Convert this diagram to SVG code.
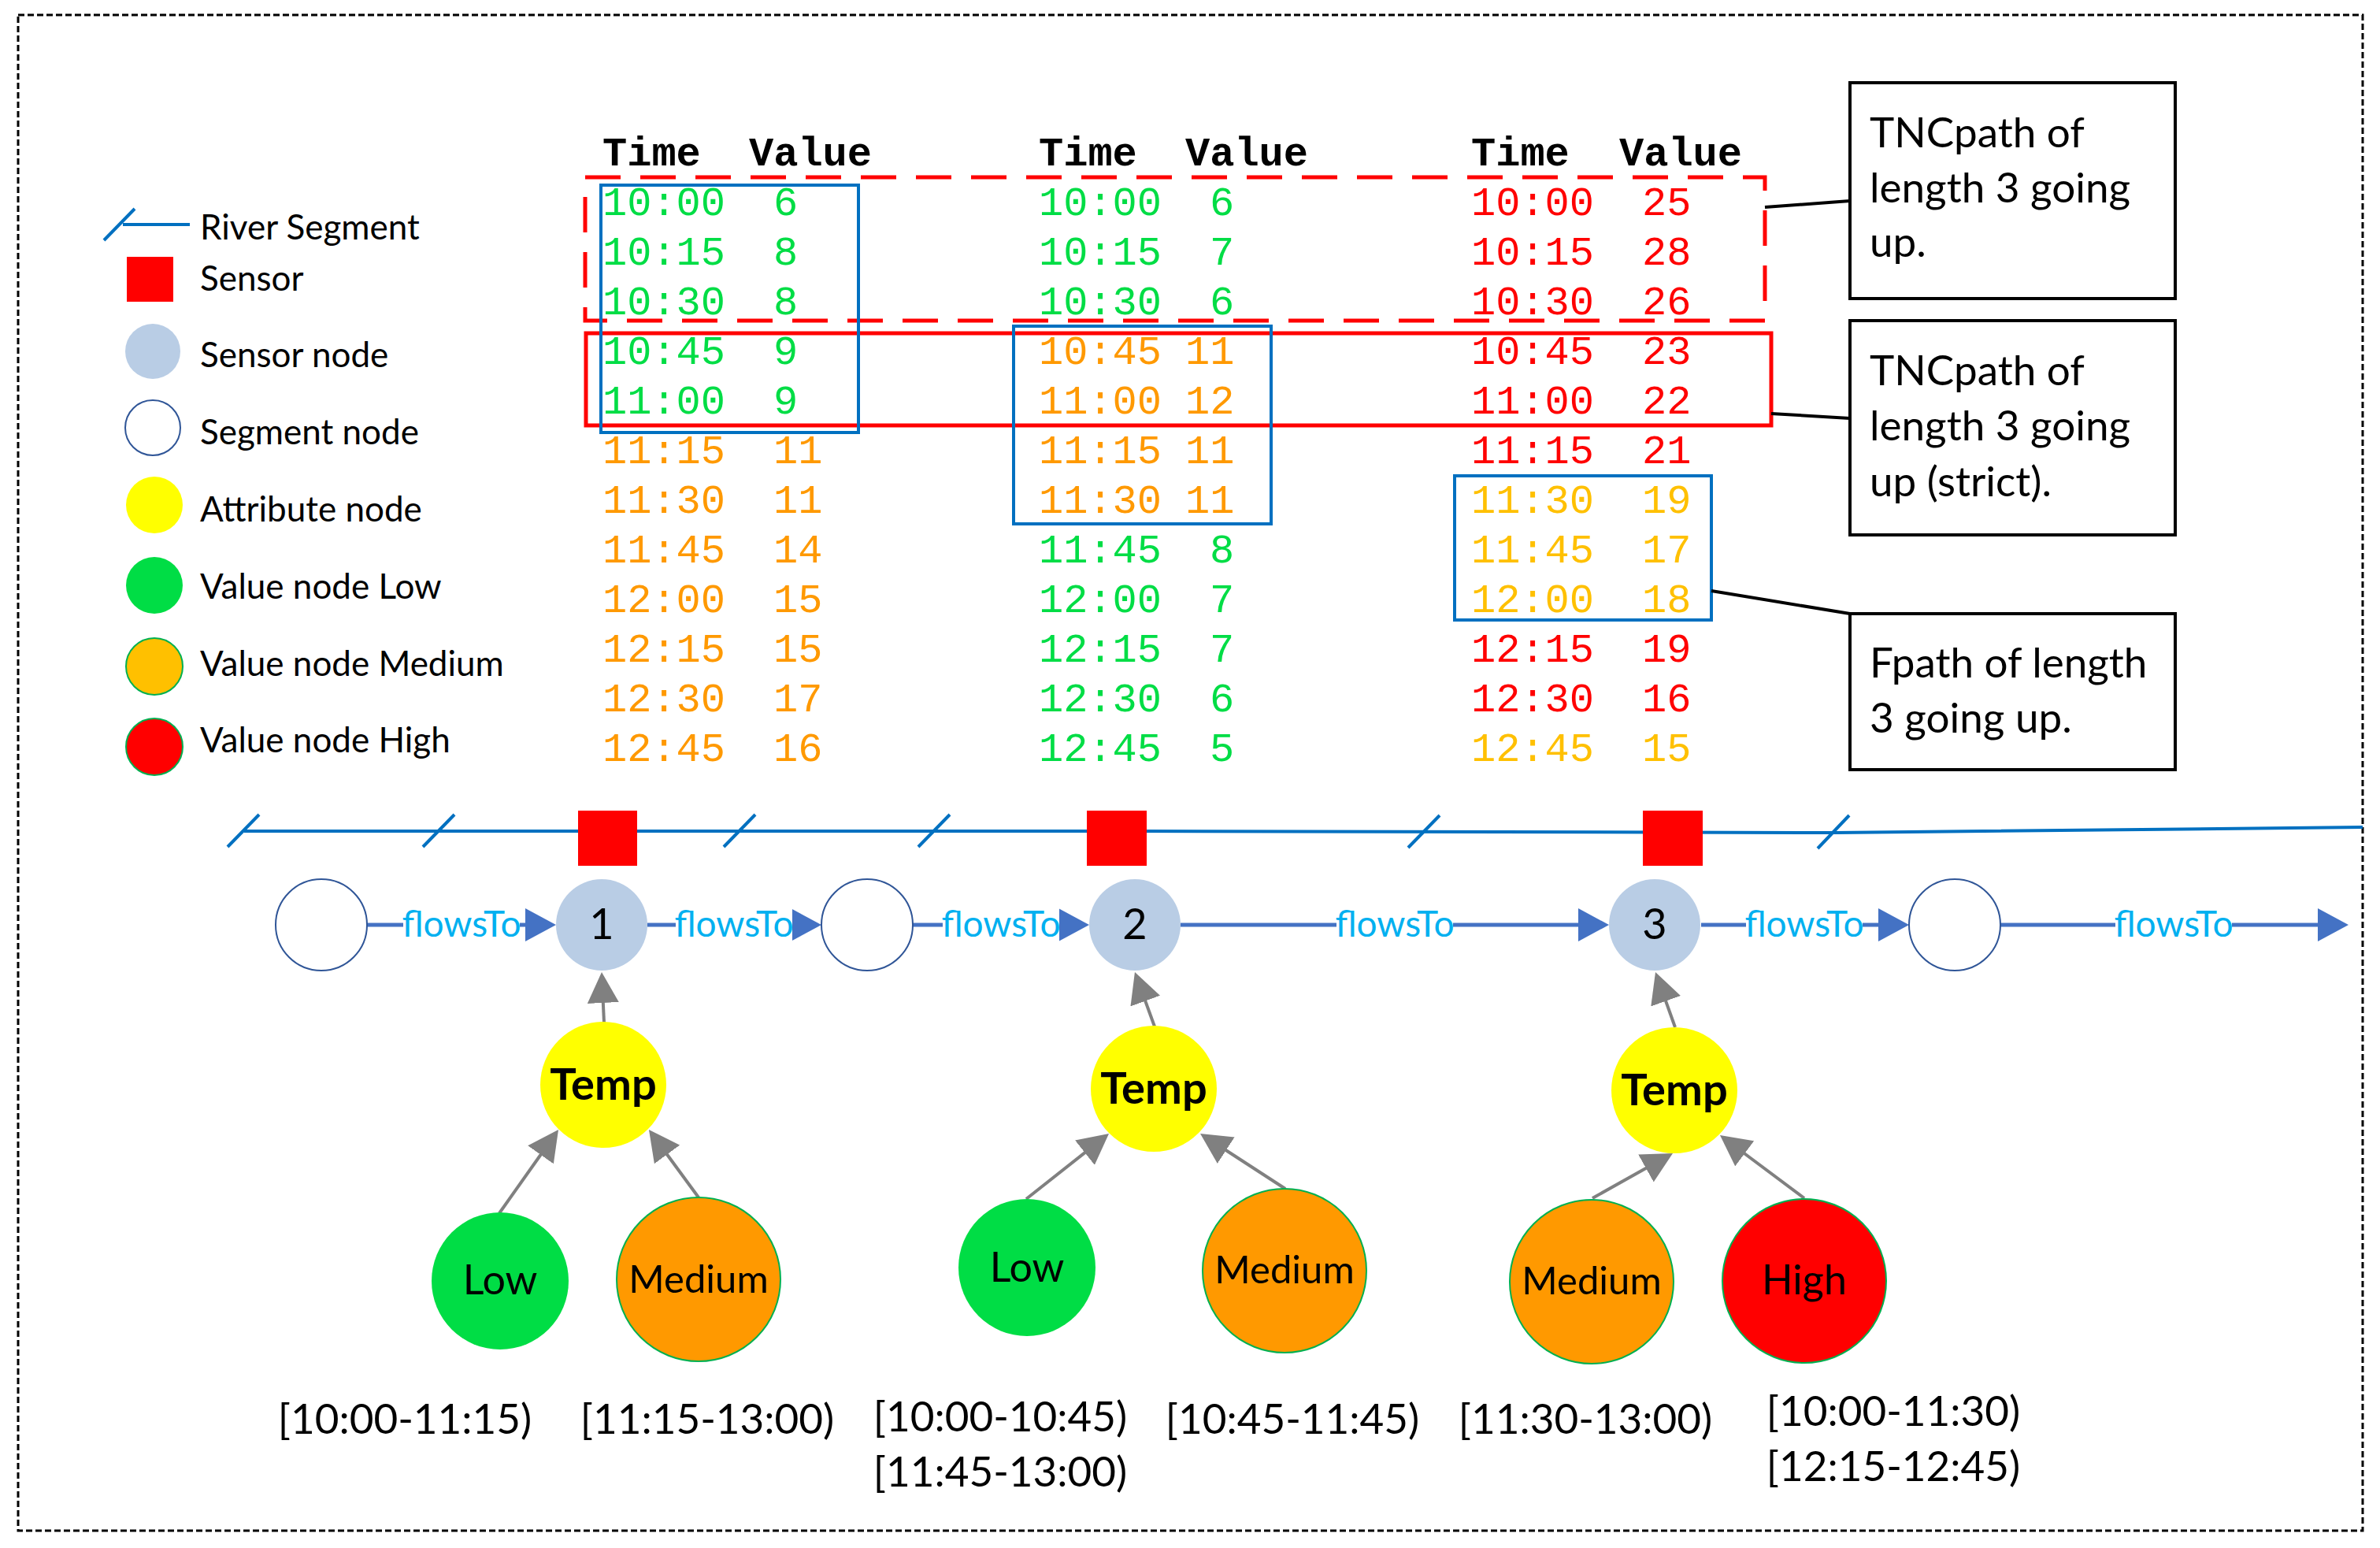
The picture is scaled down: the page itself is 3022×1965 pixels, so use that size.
<svg xmlns="http://www.w3.org/2000/svg" width="3022" height="1965" viewBox="0 0 3022 1965">
<defs>
<marker id="blueArrow" markerUnits="userSpaceOnUse" markerWidth="40" markerHeight="42" refX="9" refY="21" orient="auto"><path d="M0,0 L39,21 L0,42 Z" fill="#4472C4"/></marker>
<marker id="grayArrow" markerUnits="userSpaceOnUse" markerWidth="40" markerHeight="40" refX="9" refY="20" orient="auto"><path d="M0,0 L39,20 L0,40 Z" fill="#808080"/></marker>
</defs>
<style>
.t{font-family:"Liberation Mono","Courier New",monospace;font-size:52px}
.h{font-weight:bold;fill:#000}
.g{fill:#00DD45}.o{fill:#FF9900}.y{fill:#FFC000}.r{fill:#FF0000}
.lg{font-family:Lato,"Liberation Sans",sans-serif;font-size:44px;fill:#000}
.ann{font-family:Lato,"Liberation Sans",sans-serif;font-size:53px;fill:#000}
.fl{font-family:Lato,"Liberation Sans",sans-serif;font-size:46px;fill:#00B0F0;text-anchor:middle}
.num{font-family:Lato,"Liberation Sans",sans-serif;font-size:54px;fill:#000;text-anchor:middle}
.tmp{font-family:Lato,"Liberation Sans",sans-serif;font-size:56px;font-weight:bold;fill:#000;text-anchor:middle}
.val{font-family:Lato,"Liberation Sans",sans-serif;font-size:52px;fill:#000;text-anchor:middle}
.valm{font-family:Lato,"Liberation Sans",sans-serif;font-size:49px;fill:#000;text-anchor:middle}
.rng{font-family:Lato,"Liberation Sans",sans-serif;font-size:53px;fill:#000;text-anchor:middle}
.seg{fill:#FFFFFF;stroke:#2F5597;stroke-width:2}
.sen{fill:#B9CDE5}
.att{fill:#FFFF00}
.low{fill:#00DD45}
.med{fill:#FF9900;stroke:#00B050;stroke-width:2}
.high{fill:#FF0000;stroke:#00B050;stroke-width:2}
.sq{fill:#FF0000}
.box{fill:#FFFFFF;stroke:#000;stroke-width:4}
.blue{fill:none;stroke:#0070C0;stroke-width:4}
.flow{stroke:#4472C4;stroke-width:5;fill:none;marker-end:url(#blueArrow)}
.gray{stroke:#808080;stroke-width:4;fill:none;marker-end:url(#grayArrow)}
.river{stroke:#0070C0;stroke-width:4;fill:none}
</style>

<rect x="23" y="19" width="2977" height="1924" fill="#FFFFFF" stroke="#000" stroke-width="3" stroke-dasharray="8 4"/>

<g id="legend">
  <line x1="156" y1="285" x2="241" y2="285" class="river"/>
  <line x1="132" y1="305" x2="171" y2="265" class="river"/>
  <text x="254" y="304" class="lg">River Segment</text>
  <rect x="161" y="326" width="59" height="57" class="sq"/>
  <text x="254" y="369" class="lg">Sensor</text>
  <circle cx="194" cy="446" r="35" class="sen"/>
  <text x="254" y="466" class="lg">Sensor node</text>
  <circle cx="194" cy="543" r="35" class="seg"/>
  <text x="254" y="564" class="lg">Segment node</text>
  <circle cx="196" cy="641" r="36" class="att"/>
  <text x="254" y="662" class="lg">Attribute node</text>
  <circle cx="196" cy="743" r="36" class="low"/>
  <text x="254" y="760" class="lg">Value node Low</text>
  <circle cx="196" cy="846" r="36" fill="#FFC000" stroke="#00B050" stroke-width="2"/>
  <text x="254" y="858" class="lg">Value node Medium</text>
  <circle cx="196" cy="948" r="36" class="high"/>
  <text x="254" y="955" class="lg">Value node High</text>
</g>

<g id="table1" class="t">
  <text y="210" class="h"><tspan x="765">Time</tspan><tspan x="951">Value</tspan></text>
  <text y="273" class="g"><tspan x="765">10:00</tspan><tspan x="982">6</tspan></text>
  <text y="336" class="g"><tspan x="765">10:15</tspan><tspan x="982">8</tspan></text>
  <text y="399" class="g"><tspan x="765">10:30</tspan><tspan x="982">8</tspan></text>
  <text y="462" class="g"><tspan x="765">10:45</tspan><tspan x="982">9</tspan></text>
  <text y="525" class="g"><tspan x="765">11:00</tspan><tspan x="982">9</tspan></text>
  <text y="588" class="o"><tspan x="765">11:15</tspan><tspan x="982">11</tspan></text>
  <text y="651" class="o"><tspan x="765">11:30</tspan><tspan x="982">11</tspan></text>
  <text y="714" class="o"><tspan x="765">11:45</tspan><tspan x="982">14</tspan></text>
  <text y="777" class="o"><tspan x="765">12:00</tspan><tspan x="982">15</tspan></text>
  <text y="840" class="o"><tspan x="765">12:15</tspan><tspan x="982">15</tspan></text>
  <text y="903" class="o"><tspan x="765">12:30</tspan><tspan x="982">17</tspan></text>
  <text y="966" class="o"><tspan x="765">12:45</tspan><tspan x="982">16</tspan></text>
</g>

<g id="table2" class="t">
  <text y="210" class="h"><tspan x="1319">Time</tspan><tspan x="1505">Value</tspan></text>
  <text y="273" class="g"><tspan x="1319">10:00</tspan><tspan x="1536">6</tspan></text>
  <text y="336" class="g"><tspan x="1319">10:15</tspan><tspan x="1536">7</tspan></text>
  <text y="399" class="g"><tspan x="1319">10:30</tspan><tspan x="1536">6</tspan></text>
  <text y="462" class="o"><tspan x="1319">10:45</tspan><tspan x="1505">11</tspan></text>
  <text y="525" class="o"><tspan x="1319">11:00</tspan><tspan x="1505">12</tspan></text>
  <text y="588" class="o"><tspan x="1319">11:15</tspan><tspan x="1505">11</tspan></text>
  <text y="651" class="o"><tspan x="1319">11:30</tspan><tspan x="1505">11</tspan></text>
  <text y="714" class="g"><tspan x="1319">11:45</tspan><tspan x="1536">8</tspan></text>
  <text y="777" class="g"><tspan x="1319">12:00</tspan><tspan x="1536">7</tspan></text>
  <text y="840" class="g"><tspan x="1319">12:15</tspan><tspan x="1536">7</tspan></text>
  <text y="903" class="g"><tspan x="1319">12:30</tspan><tspan x="1536">6</tspan></text>
  <text y="966" class="g"><tspan x="1319">12:45</tspan><tspan x="1536">5</tspan></text>
</g>

<g id="table3" class="t">
  <text y="210" class="h"><tspan x="1868">Time</tspan><tspan x="2056">Value</tspan></text>
  <text y="273" class="r"><tspan x="1868">10:00</tspan><tspan x="2085">25</tspan></text>
  <text y="336" class="r"><tspan x="1868">10:15</tspan><tspan x="2085">28</tspan></text>
  <text y="399" class="r"><tspan x="1868">10:30</tspan><tspan x="2085">26</tspan></text>
  <text y="462" class="r"><tspan x="1868">10:45</tspan><tspan x="2085">23</tspan></text>
  <text y="525" class="r"><tspan x="1868">11:00</tspan><tspan x="2085">22</tspan></text>
  <text y="588" class="r"><tspan x="1868">11:15</tspan><tspan x="2085">21</tspan></text>
  <text y="651" class="y"><tspan x="1868">11:30</tspan><tspan x="2085">19</tspan></text>
  <text y="714" class="y"><tspan x="1868">11:45</tspan><tspan x="2085">17</tspan></text>
  <text y="777" class="y"><tspan x="1868">12:00</tspan><tspan x="2085">18</tspan></text>
  <text y="840" class="r"><tspan x="1868">12:15</tspan><tspan x="2085">19</tspan></text>
  <text y="903" class="r"><tspan x="1868">12:30</tspan><tspan x="2085">16</tspan></text>
  <text y="966" class="y"><tspan x="1868">12:45</tspan><tspan x="2085">15</tspan></text>
</g>

<g id="highlights">
  <rect x="743" y="225" width="1498" height="182" fill="none" stroke="#FF0000" stroke-width="5" stroke-dasharray="45 25"/>
  <rect x="744" y="423" width="1505" height="117" fill="none" stroke="#FF0000" stroke-width="5"/>
  <rect x="763" y="235" width="327" height="314" class="blue"/>
  <rect x="1287" y="414" width="327" height="251" class="blue"/>
  <rect x="1847" y="604" width="326" height="183" class="blue"/>
</g>

<g id="callout-lines" stroke="#000" stroke-width="4" fill="none">
  <line x1="2241" y1="263" x2="2349" y2="255"/>
  <line x1="2249" y1="525" x2="2349" y2="531"/>
  <line x1="2173" y1="750" x2="2349" y2="779"/>
</g>

<g id="note1">
  <rect x="2349" y="105" width="413" height="274" class="box"/>
  <text class="ann" x="2374" y="187">TNCpath of</text>
  <text class="ann" x="2374" y="257">length 3 going</text>
  <text class="ann" x="2374" y="326">up.</text>
</g>
<g id="note2">
  <rect x="2349" y="407" width="413" height="272" class="box"/>
  <text class="ann" x="2374" y="489">TNCpath of</text>
  <text class="ann" x="2374" y="559">length 3 going</text>
  <text class="ann" x="2374" y="630">up (strict).</text>
</g>
<g id="note3">
  <rect x="2349" y="779" width="413" height="198" class="box"/>
  <text class="ann" x="2374" y="860">Fpath of length</text>
  <text class="ann" x="2374" y="930">3 going up.</text>
</g>

<g id="river">
  <path d="M310,1055 L1440,1055 L2330,1057 L3000,1050" class="river"/>
  <line x1="289" y1="1075" x2="329" y2="1034" class="river"/>
  <line x1="537" y1="1075" x2="577" y2="1034" class="river"/>
  <line x1="919" y1="1075" x2="959" y2="1034" class="river"/>
  <line x1="1166" y1="1075" x2="1206" y2="1034" class="river"/>
  <line x1="1788" y1="1076" x2="1828" y2="1035" class="river"/>
  <line x1="2308" y1="1077" x2="2348" y2="1035" class="river"/>
</g>
<g id="sensor1"><rect x="734" y="1029" width="75" height="70" class="sq"/></g>
<g id="sensor2"><rect x="1380" y="1029" width="76" height="70" class="sq"/></g>
<g id="sensor3"><rect x="2086" y="1029" width="76" height="70" class="sq"/></g>

<g id="connectors">
  <line x1="466" y1="1174" x2="676" y2="1174" class="flow"/>
  <line x1="822" y1="1174" x2="1013" y2="1174" class="flow"/>
  <line x1="1159" y1="1174" x2="1353" y2="1174" class="flow"/>
  <line x1="1499" y1="1174" x2="2013" y2="1174" class="flow"/>
  <line x1="2160" y1="1174" x2="2394" y2="1174" class="flow"/>
  <line x1="2539" y1="1174" x2="2952" y2="1174" class="flow"/>
  <g fill="#FFFFFF">
    <rect x="512" y="1150" width="148" height="50"/>
    <rect x="858" y="1150" width="148" height="50"/>
    <rect x="1197" y="1150" width="148" height="50"/>
    <rect x="1697" y="1150" width="148" height="50"/>
    <rect x="2217" y="1150" width="148" height="50"/>
    <rect x="2686" y="1150" width="148" height="50"/>
  </g>
  <text class="fl" x="586" y="1189">flowsTo</text>
  <text class="fl" x="932" y="1189">flowsTo</text>
  <text class="fl" x="1271" y="1189">flowsTo</text>
  <text class="fl" x="1771" y="1189">flowsTo</text>
  <text class="fl" x="2291" y="1189">flowsTo</text>
  <text class="fl" x="2760" y="1189">flowsTo</text>
  <line x1="767" y1="1298" x2="765.4" y2="1264" class="gray"/>
  <line x1="1466" y1="1303" x2="1451.2" y2="1262.2" class="gray"/>
  <line x1="2127" y1="1304" x2="2112.1" y2="1262.3" class="gray"/>
  <line x1="634" y1="1540" x2="691.7" y2="1458.5" class="gray"/>
  <line x1="887" y1="1520" x2="841.7" y2="1458.2" class="gray"/>
  <line x1="1303" y1="1522" x2="1384.5" y2="1457.6" class="gray"/>
  <line x1="1632" y1="1509" x2="1549.2" y2="1455.3" class="gray"/>
  <line x1="2022" y1="1521" x2="2097.8" y2="1478.6" class="gray"/>
  <line x1="2291" y1="1521" x2="2208" y2="1459" class="gray"/>
</g>

<g id="segnode-a"><circle cx="408" cy="1174" r="58" class="seg"/></g>
<g id="sensornode-1"><circle cx="764" cy="1174" r="58" class="sen"/><text class="num" x="764" y="1192">1</text></g>
<g id="segnode-b"><circle cx="1101" cy="1174" r="58" class="seg"/></g>
<g id="sensornode-2"><circle cx="1441" cy="1174" r="58" class="sen"/><text class="num" x="1441" y="1192">2</text></g>
<g id="sensornode-3"><circle cx="2101" cy="1174" r="58" class="sen"/><text class="num" x="2101" y="1192">3</text></g>
<g id="segnode-c"><circle cx="2482" cy="1174" r="58" class="seg"/></g>

<g id="temp-1"><circle cx="766" cy="1377" r="80" class="att"/><text class="tmp" x="766" y="1396">Temp</text></g>
<g id="temp-2"><circle cx="1465" cy="1382" r="80" class="att"/><text class="tmp" x="1465" y="1401">Temp</text></g>
<g id="temp-3"><circle cx="2126" cy="1384" r="80" class="att"/><text class="tmp" x="2126" y="1403">Temp</text></g>

<g id="low-1"><circle cx="635" cy="1626" r="87" class="low"/><text class="val" x="635" y="1643">Low</text></g>
<g id="medium-1"><circle cx="887" cy="1624" r="104" class="med"/><text class="valm" x="887" y="1641">Medium</text></g>
<g id="low-2"><circle cx="1304" cy="1609" r="87" class="low"/><text class="val" x="1304" y="1627">Low</text></g>
<g id="medium-2"><circle cx="1631" cy="1613" r="104" class="med"/><text class="valm" x="1631" y="1629">Medium</text></g>
<g id="medium-3"><circle cx="2021" cy="1627" r="104" class="med"/><text class="valm" x="2021" y="1643">Medium</text></g>
<g id="high-3"><circle cx="2291" cy="1626" r="104" class="high"/><text class="val" x="2291" y="1643">High</text></g>

<g id="ranges">
  <text class="rng" x="514" y="1820">[10:00-11:15)</text>
  <text class="rng" x="898" y="1820">[11:15-13:00)</text>
  <text class="rng" x="1270" y="1817">[10:00-10:45)</text>
  <text class="rng" x="1270" y="1887">[11:45-13:00)</text>
  <text class="rng" x="1641" y="1820">[10:45-11:45)</text>
  <text class="rng" x="2013" y="1820">[11:30-13:00)</text>
  <text class="rng" x="2404" y="1810">[10:00-11:30)</text>
  <text class="rng" x="2404" y="1880">[12:15-12:45)</text>
</g>
</svg>
